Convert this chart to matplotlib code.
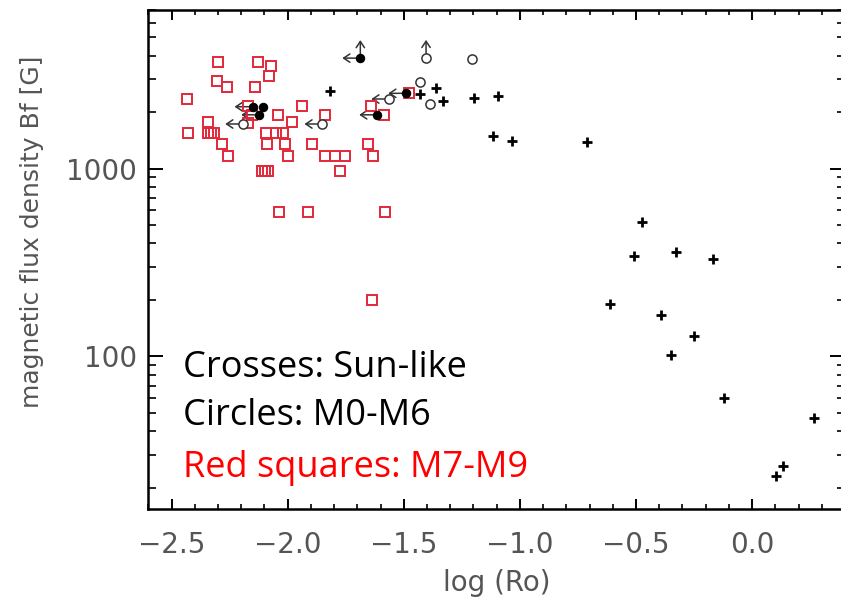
import matplotlib.pyplot as plt
import numpy as np
from matplotlib.ticker import LogLocator, MultipleLocator, NullFormatter

# Sun-like stars (crosses)
sun_logro = [-1.818, -1.431, -1.360, -1.329, -1.196, -1.095, -1.116, -1.036,
             -0.711, -0.474, -0.509, -0.329, -0.167, -0.612, -0.391, -0.249,
             -0.348, -0.123, 0.268, 0.134, 0.104]
sun_bf = [2600, 2495, 2685, 2307, 2388, 2444, 1499, 1400,
          1380, 522, 344, 359, 331, 191, 167, 128,
          102, 60, 47, 26, 23]

# M0-M6 open circles; left = upper limit on Ro, up = lower limit on Bf
m06_logro = [-1.404, -1.206, -1.429, -1.387, -1.562, -1.850, -2.191]
m06_bf = [3890, 3830, 2910, 2220, 2350, 1730, 1730]
m06_left = [False, False, False, False, True, True, True]
m06_up = [True, False, False, False, False, False, False]

# M0-M6 filled circles
m06f_logro = [-1.687, -1.489, -1.614, -2.151, -2.105, -2.122]
m06f_bf = [3880, 2520, 1936, 2138, 2138, 1936]
m06f_left = [True, True, True, True, False, True]
m06f_up = [True, False, False, False, False, False]

# M7-M9 (red squares)
late_logro = [-2.299, -2.127, -2.072, -2.082, -2.304, -2.261, -2.141, -2.434,
              -1.940, -2.171, -2.154, -2.042, -1.838, -1.639, -1.584, -1.476,
              -2.341, -2.171, -1.983, -2.431, -2.345, -2.330, -2.316, -2.093,
              -2.048, -2.018, -2.283, -2.091, -2.013, -1.893, -1.654, -2.257,
              -1.997, -1.837, -1.795, -1.754, -1.634, -2.112, -2.098, -2.084,
              -1.773, -2.036, -1.911, -1.580, -1.636]
late_bf = [3707, 3707, 3515, 3111, 2925, 2722, 2722, 2340,
           2154, 2154, 1936, 1936, 1936, 2154, 1936, 2518,
           1763, 1742, 1763, 1554, 1554, 1554, 1554, 1554,
           1554, 1554, 1353, 1353, 1353, 1353, 1353, 1173,
           1173, 1173, 1173, 1173, 1173, 972, 972, 972,
           972, 589, 589, 589, 199]

x_ticks = [-2.5, -2.0, -1.5, -1.0, -0.5, 0.0]
y_ticks = [100, 1000]

gray = '#555555'
red = '#e2283a'

fig = plt.figure(figsize=(8.41, 6.0), dpi=100)
ax = fig.add_axes([148.3 / 841, 91.5 / 600, (845 - 148.3) / 841, (590 - 91.5) / 600])

ax.plot(late_logro, late_bf, 's', ms=6.8, mfc='none', mec=red, mew=1.4, zorder=2)
ax.plot(m06_logro, m06_bf, 'o', ms=6.6, mfc='white', mec='#333333', mew=1.1, zorder=3)
ax.plot(m06f_logro, m06f_bf, 'o', ms=6.0, mfc='black', mec='black', mew=0.8, zorder=4)
ax.plot(sun_logro, sun_bf, '+', ms=7, color='black', mew=2.0, zorder=3)

arrow = dict(arrowstyle='<-, head_length=0.45, head_width=0.3', color='#333333',
             lw=1.1, shrinkA=0, shrinkB=3)


def limit_arrows(xs, ys, left, up):
    for x, y, l, u in zip(xs, ys, left, up):
        if l:
            ax.annotate('', xy=(x, y), xytext=(-13, 0), textcoords='offset points',
                        arrowprops=arrow, zorder=1)
        if u:
            ax.annotate('', xy=(x, y), xytext=(0, 13), textcoords='offset points',
                        arrowprops=arrow, zorder=1)


limit_arrows(m06_logro, m06_bf, m06_left, m06_up)
limit_arrows(m06f_logro, m06f_bf, m06f_left, m06f_up)

ax.set_yscale('log')
ax.set_xlim(-2.6, 0.4)
ax.set_ylim(15.5, 7000)

ax.set_xticks(x_ticks)
ax.xaxis.set_minor_locator(MultipleLocator(0.1))
ax.set_yticks(y_ticks, labels=[str(v) for v in y_ticks])
ax.yaxis.set_minor_locator(LogLocator(base=10, subs=np.arange(2, 10)))
ax.yaxis.set_minor_formatter(NullFormatter())

ax.tick_params(axis='both', which='both', direction='in', top=True, right=True,
               colors='black', labelcolor=gray, labelsize=20)
ax.tick_params(axis='x', which='major', length=7.2, width=1.4, pad=16)
ax.tick_params(axis='x', which='minor', length=3.6, width=1.2)
ax.tick_params(axis='y', which='major', length=10.8, width=1.4, pad=8)
ax.tick_params(axis='y', which='minor', length=5.5, width=1.2)
for s in ax.spines.values():
    s.set_linewidth(1.8)

fig.text(496.5 / 841, 9 / 600, 'log (Ro)', ha='center', va='baseline',
         fontsize=20, color=gray)
fig.text(32 / 841, (600 - 232) / 600, 'magnetic flux density Bf [G]', rotation=90,
         ha='center', va='center', fontsize=18, color=gray)

fig.text(182.7 / 841, (600 - 376.7) / 600, 'Crosses: Sun-like', fontsize=26,
         family='Open Sans', color='black', va='baseline')
fig.text(182.7 / 841, (600 - 425) / 600, 'Circles: M0-M6', fontsize=26,
         family='Open Sans', color='black', va='baseline')
fig.text(182.7 / 841, (600 - 476.7) / 600, 'Red squares: M7-M9', fontsize=26,
         family='Open Sans', color='red', va='baseline')

fig.savefig('out.png', dpi=100)
